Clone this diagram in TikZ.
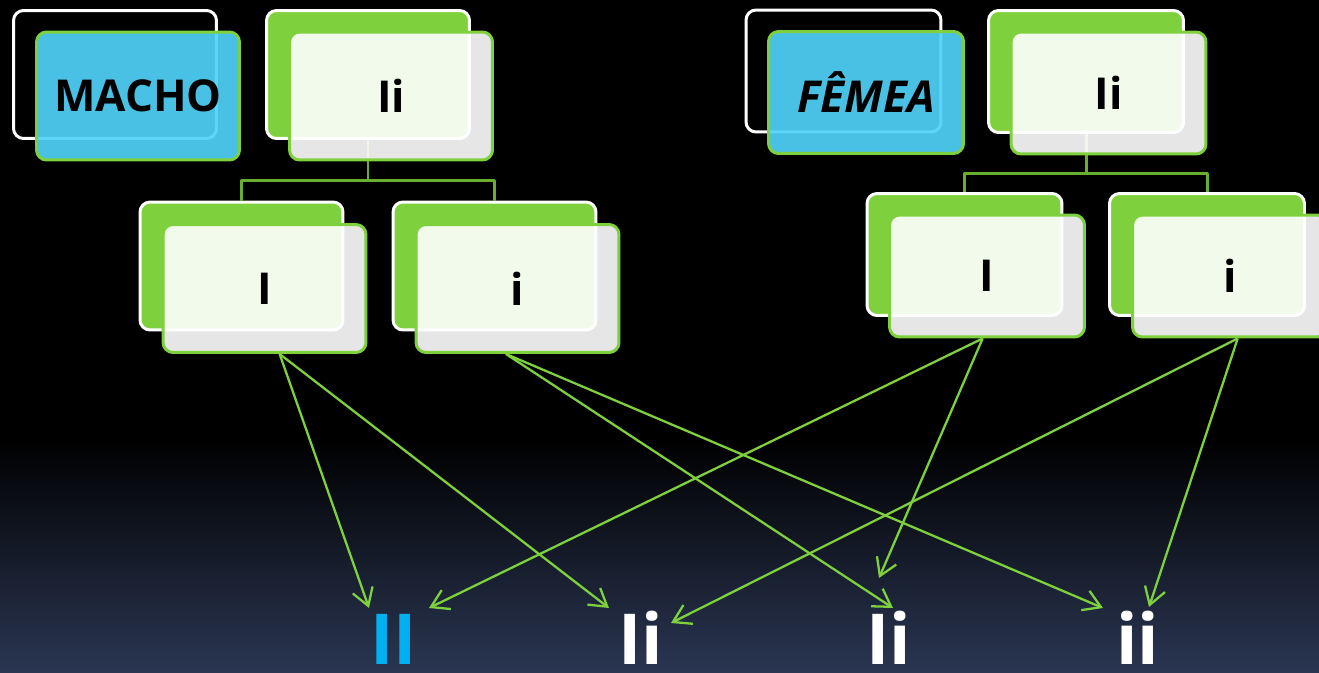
\documentclass[tikz,border=0pt]{standalone}
\usepackage{fontspec}
\setmainfont{Open Sans}
\usetikzlibrary{arrows.meta}

\definecolor{cardgreen}{HTML}{7ED03C}
\definecolor{treegreen}{HTML}{6AAE30}
\definecolor{sexblue}{HTML}{50D2F8}
\definecolor{IIblue}{HTML}{00B0F0}
\definecolor{bgblue}{HTML}{2A3652}

\begin{document}
\begin{tikzpicture}[
            x = 0.02cm, y = 0.02cm, % one unit = one pixel of the slide
            > = {Straight Barb[length=3.4mm, width=4.2mm]}, % open arrow head
            line join = round
        ]

        \tikzstyle{backbox}=[
            draw = white,
            line width = 1.7pt,
            rounded corners = 0.2cm,
            minimum width = 4.06cm,
            minimum height = 2.56cm
        ]
        \tikzstyle{frontbox}=[
            backbox,
            draw = cardgreen,
            fill = white,
            fill opacity = 0.9,
            text opacity = 1,
            font = \bfseries\fontsize{25}{30}\selectfont
        ]
        \tikzstyle{sexbox}=[frontbox, fill = sexblue, fill opacity = 0.92]
        \tikzstyle{small}=[minimum width = 3.9cm, minimum height = 2.44cm]
        \tikzstyle{tree}=[treegreen, line width = 1.7pt]
        \tikzstyle{cross}=[->, cardgreen, line width = 1.3pt]
        \tikzstyle{gamete}=[anchor = base, inner sep = 0pt, text = white,
            font = \bfseries\fontsize{40}{46}\selectfont]

        \useasboundingbox (0,0) rectangle (1319,-673);
        \fill[black] (0,0) rectangle (1319,-440);
        \shade[top color = black, bottom color = bgblue] (0,-440) rectangle (1319,-673);

        % back cards
        \node[backbox] (bM) at (115,-74.5) {};
        \node[backbox, fill = cardgreen] (bP1) at (368,-74.5) {};
        \node[backbox, fill = cardgreen] (bP1I) at (241.5,-266) {};
        \node[backbox, fill = cardgreen] (bP1i) at (494.5,-266) {};

        \node[backbox, small] (bF) at (843.5,-71) {};
        \node[backbox, small, fill = cardgreen] (bP2) at (1086,-71.5) {};
        \node[backbox, small, fill = cardgreen] (bP2I) at (964.5,-254.5) {};
        \node[backbox, small, fill = cardgreen] (bP2i) at (1207,-254.5) {};

        % tree lines
        \draw[tree] (bP1.south) -- ++(0,-41) -| (bP1I.north);
        \draw[tree] (bP1.south) -- ++(0,-41) -| (bP1i.north);
        \draw[tree] (bP2.south) -- ++(0,-40) -| (bP2I.north);
        \draw[tree] (bP2.south) -- ++(0,-40) -| (bP2i.north);

        % front cards
        \node[sexbox] (fM) at (138,-96) {MACHO};
        \node[frontbox] (fP1) at (391,-96) {Ii};
        \node[frontbox] (fP1I) at (264.5,-288.5) {I};
        \node[frontbox] (fP1i) at (517.5,-288.5) {i};

        \node[sexbox, small] (fF) at (866,-92.5) {\textit{FÊMEA}};
        \node[frontbox, small] (fP2) at (1108.5,-93) {Ii};
        \node[frontbox, small] (fP2I) at (987,-276) {I};
        \node[frontbox, small] (fP2i) at (1230,-276) {i};

        % gametes
        \node[gamete, text = IIblue] (gII) at (394,-664) {II};
        \node[gamete] (gIi1) at (641,-664) {Ii};
        \node[gamete] (gIi2) at (889,-664) {Ii};
        \node[gamete] (gii) at (1138,-664) {ii};

        \coordinate (tII1) at (369,-608);
        \coordinate (tII2) at (429,-608);
        \coordinate (tIi1a) at (609,-608);
        \coordinate (tIi1b) at (671,-623);
        \coordinate (tIi2a) at (893,-608);
        \coordinate (tIi2b) at (879,-578);
        \coordinate (tiia) at (1103,-608);
        \coordinate (tiib) at (1149,-607);

        \draw[cross] (fP1I.-77) -- (tII1);
        \draw[cross] (fP1I.-77) -- (tIi1a);
        \draw[cross] (fP1i.-100) -- (tIi2a);
        \draw[cross] (fP1i.-100) -- (tiia);
        \draw[cross] (fP2I.-94) -- (tII2);
        \draw[cross] (fP2I.-94) -- (tIi2b);
        \draw[cross] (fP2i.-83) -- (tIi1b);
        \draw[cross] (fP2i.-83) -- (tiib);
    \end{tikzpicture}
\end{document}
